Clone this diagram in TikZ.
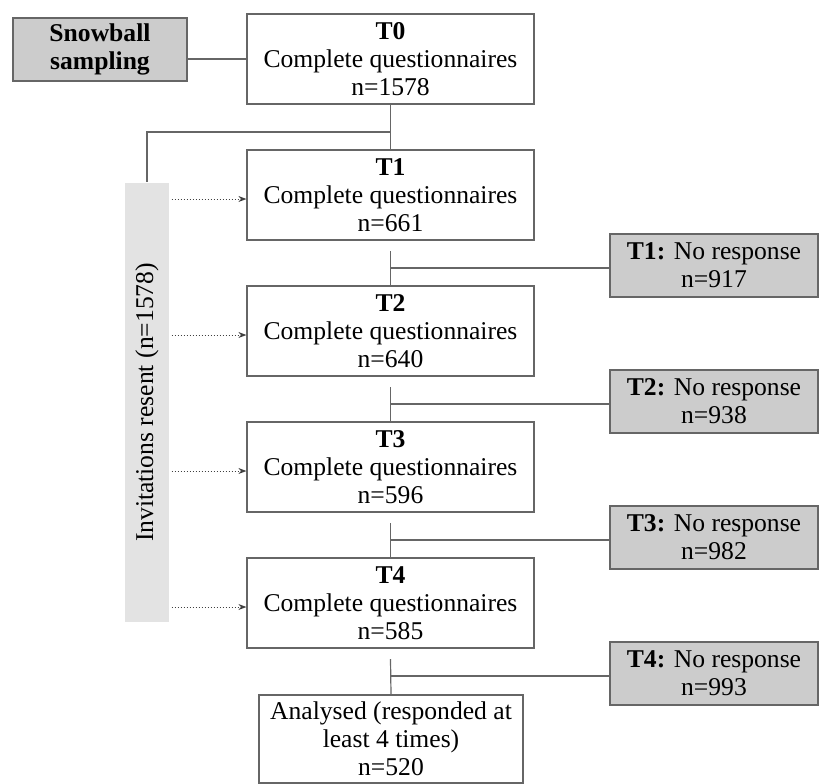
\documentclass[tikz,border=0pt]{standalone}
\usepackage{fontspec}
\setmainfont{Liberation Serif}
\usetikzlibrary{arrows.meta}

\colorlet{boxline}{black!60}
\colorlet{darkfill}{black!20}
\colorlet{lightfill}{black!11}

\begin{document}
\begin{tikzpicture}[%
        x = 0.5pt,
        y = -0.5pt,
        line width = 0.6pt,
        font = \fontsize{12.8}{14}\selectfont,
        every node/.style = {%
            inner sep = 0pt,
            align = center
        },
        wavebox/.style = {%
            draw = boxline,
            fill = white,
            minimum width = 143.5pt,
            minimum height = 45pt
        },
        lostbox/.style = {%
            draw = boxline,
            fill = darkfill,
            minimum width = 104pt,
            minimum height = 31.5pt
        },
        link/.style = {%
            draw = boxline
        },
        invarrow/.style = {%
            draw = black!75,
            densely dotted,
            line width = 0.5pt,
            -{Stealth[length = 4pt, width = 3pt]}
        }
    ]
        \useasboundingbox (0, 0) rectangle (819, 783);

        % left column
        \node[lostbox, minimum width = 87pt] (snow) at (100, 49.5)
            {\bfseries Snowball\\\bfseries sampling};
        \node[fill = lightfill, minimum width = 22pt, minimum height = 219.5pt]
            (bar) at (147, 402.5) {};
        \node[rotate = 90] (bartext) at (bar.center) {Invitations resent (n=1578)};

        % waves
        \node[wavebox] (t0) at (390.5, 59)
            {\bfseries T0\\Complete questionnaires\\n=1578};
        \node[wavebox] (t1) at (390.5, 195)
            {\bfseries T1\\Complete questionnaires\\n=661};
        \node[wavebox] (t2) at (390.5, 331)
            {\bfseries T2\\Complete questionnaires\\n=640};
        \node[wavebox] (t3) at (390.5, 467)
            {\bfseries T3\\Complete questionnaires\\n=596};
        \node[wavebox] (t4) at (390.5, 603)
            {\bfseries T4\\Complete questionnaires\\n=585};
        \node[wavebox, minimum width = 132pt, minimum height = 44pt] (final)
            at (391, 739) {Analysed (responded at\\least 4 times)\\n=520};

        % no response
        \node[lostbox] (nr1) at (714, 265.5) {\textbf{T1:} No response\\n=917};
        \node[lostbox] (nr2) at (714, 401.5) {\textbf{T2:} No response\\n=938};
        \node[lostbox] (nr3) at (714, 537.5) {\textbf{T3:} No response\\n=982};
        \node[lostbox] (nr4) at (714, 673.5) {\textbf{T4:} No response\\n=993};

        % connectors
        \draw[link] (t0.west) -- (t0.west -| snow.east);
        \draw[link] (t0.south) -- (t1.north);
        \coordinate (split) at (390.5, 132);
        \draw[link] (split) -| (bar.north);

        \coordinate (g1) at (390.5, 251);
        \coordinate (h1) at (390.5, 268);
        \draw[link] (g1) -- (t2.north);
        \draw[link] (h1) -- (nr1.west |- h1);

        \coordinate (g2) at (390.5, 387);
        \coordinate (h2) at (390.5, 404);
        \draw[link] (g2) -- (t3.north);
        \draw[link] (h2) -- (nr2.west |- h2);

        \coordinate (g3) at (390.5, 523);
        \coordinate (h3) at (390.5, 540);
        \draw[link] (g3) -- (t4.north);
        \draw[link] (h3) -- (nr3.west |- h3);

        \coordinate (g4) at (390.5, 659);
        \coordinate (h4) at (390.5, 676);
        \draw[link] (g4) -- (final.north);
        \draw[link] (h4) -- (nr4.west |- h4);

        % invitations
        \draw[invarrow] ([xshift = 1pt, yshift = -2pt]bar.east |- t1.west)
            -- ([yshift = -2pt]t1.west);
        \draw[invarrow] ([xshift = 1pt, yshift = -2pt]bar.east |- t2.west)
            -- ([yshift = -2pt]t2.west);
        \draw[invarrow] ([xshift = 1pt, yshift = -2pt]bar.east |- t3.west)
            -- ([yshift = -2pt]t3.west);
        \draw[invarrow] ([xshift = 1pt, yshift = -2pt]bar.east |- t4.west)
            -- ([yshift = -2pt]t4.west);
    \end{tikzpicture}
\end{document}
